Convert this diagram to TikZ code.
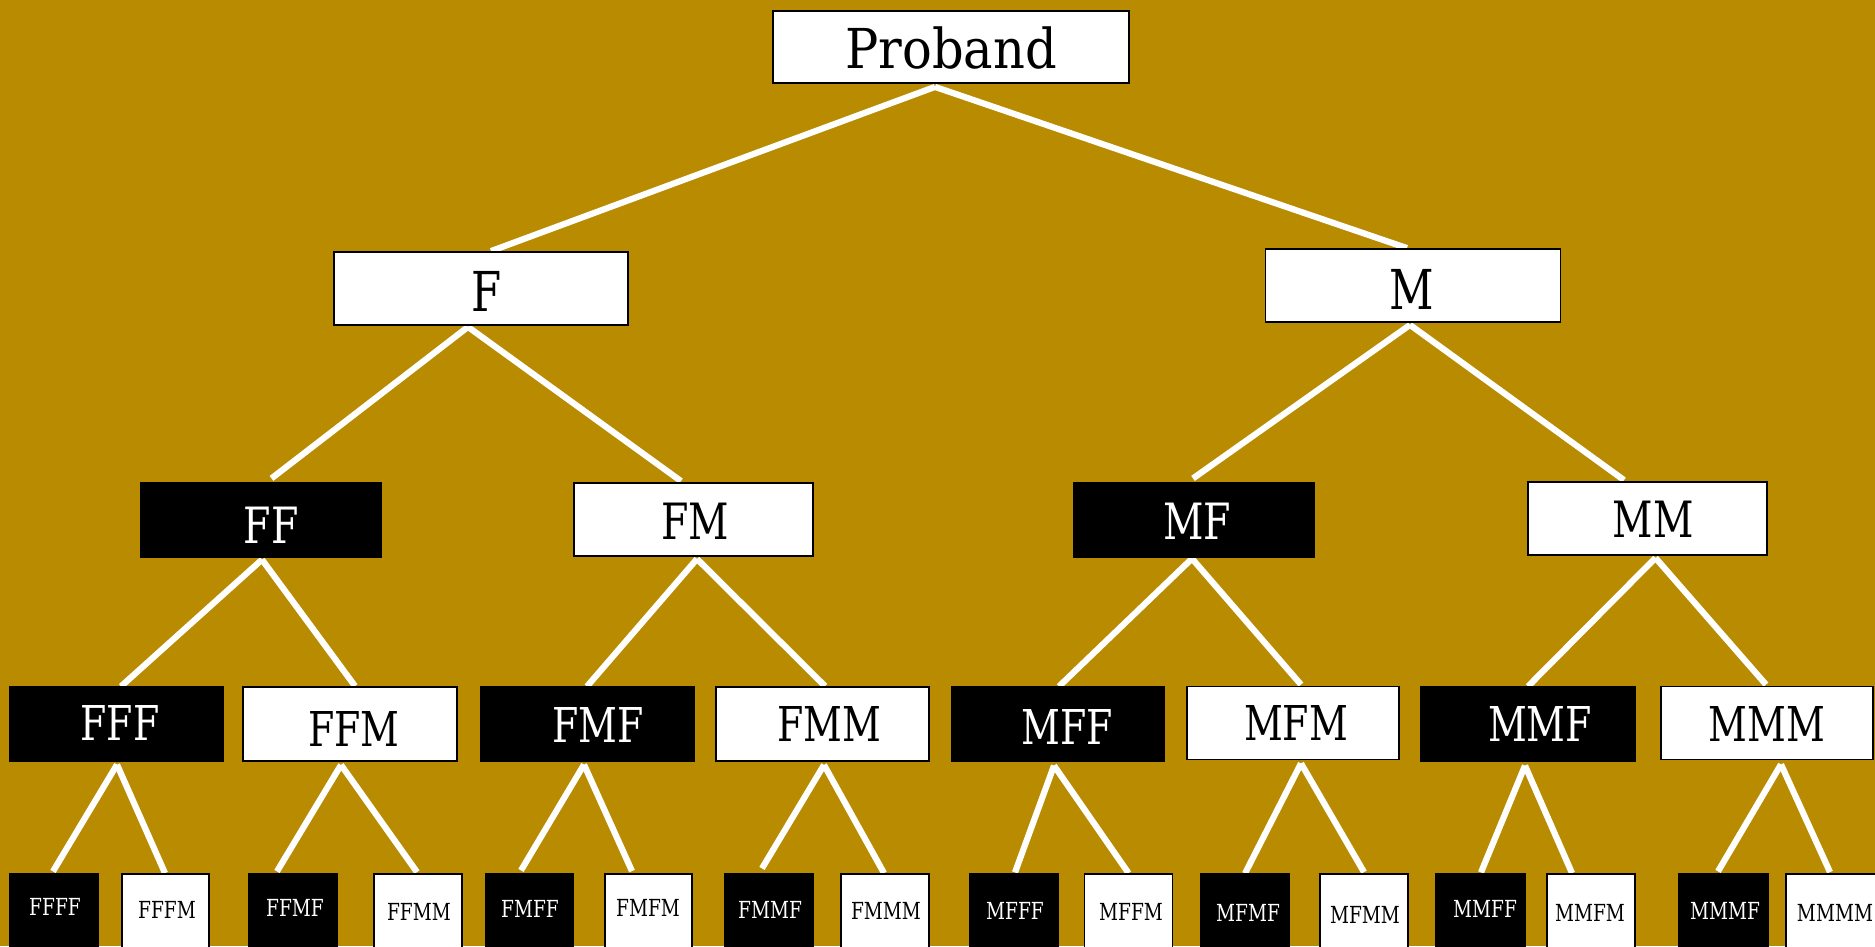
\documentclass[tikz,border=0pt]{standalone}
\usepackage{fontspec}
\setmainfont{DejaVu Serif}[FakeStretch=0.9]
\newfontfamily\narrowf{DejaVu Serif}[FakeStretch=0.79]
\usetikzlibrary{calc}
\definecolor{gold}{RGB}{184,139,0}
\pgfdeclarelayer{bg}
\pgfsetlayers{bg,main}
\newcommand\pfA{\fontsize{55}{60}\selectfont}
\newcommand\pfAn{\narrowf\fontsize{55}{60}\selectfont}
\newcommand\pfB{\narrowf\fontsize{50}{55}\selectfont}
\newcommand\pfC{\narrowf\fontsize{48}{52}\selectfont}
\newcommand\pfD{\narrowf\fontsize{23.5}{26}\selectfont}
\begin{document}
\begin{tikzpicture}[x=1pt,y=-1pt,
  wbox/.style={draw=black,line width=1.8pt,fill=white,inner sep=0pt},
  bbox/.style={draw=black,line width=1.2pt,fill=black,inner sep=0pt},
  lvA/.style={minimum width=#1pt,minimum height=73pt},
  lvC/.style={minimum width=#1pt,minimum height=74pt},
  lvD/.style={minimum width=#1pt,minimum height=86pt},
  tA/.style={inner sep=0pt,text height=40pt,text depth=0pt,font=\pfA,text=black},
  tAn/.style={inner sep=0pt,text height=40pt,text depth=0pt,font=\pfAn,text=black},
  tBw/.style={inner sep=0pt,text height=36.5pt,text depth=0pt,font=\pfB,text=white},
  tBk/.style={inner sep=0pt,text height=36.5pt,text depth=0pt,font=\pfB,text=black},
  tCw/.style={inner sep=0pt,text height=35pt,text depth=0pt,font=\pfC,text=white},
  tCk/.style={inner sep=0pt,text height=35pt,text depth=0pt,font=\pfC,text=black},
  tDw/.style={inner sep=0pt,text height=17pt,text depth=0pt,font=\pfD,text=white},
  tDk/.style={inner sep=0pt,text height=17pt,text depth=0pt,font=\pfD,text=black},
  link/.style={draw=white,line width=6.2pt}]
\useasboundingbox (0,0) rectangle (1875,946);
\clip (0,0) rectangle (1875,946);
\begin{pgfonlayer}{bg}
\fill[gold] (0,0) rectangle (1875,946);
\end{pgfonlayer}

% level 0
\node[wbox,minimum width=356pt,minimum height=72pt] (P) at (951,47) {};
\node[tA] (tP) at (951,48) {Proband};
% level 1
\node[wbox,lvA=294] (F) at (481,288.5) {};
\node[tAn] (tF) at (487,291) {F};
\node[wbox,lvA=295] (M) at (1413,285.5) {};
\node[tAn] (tM) at (1412,289) {M};
% level 2
\node[bbox,lvC=240] (FF) at (261,520) {};
\node[tBw] (tFF) at (271,525) {FF};
\node[wbox,lvA=239] (FM) at (693.5,519.5) {};
\node[tBk] (tFM) at (695,521) {FM};
\node[bbox,lvC=240] (MF) at (1194,520) {};
\node[tBw] (tMF) at (1197,521) {MF};
\node[wbox,lvA=239] (MM) at (1647.5,518.5) {};
\node[tBk] (tMM) at (1653,519) {MM};
% level 3
\node[bbox,lvC=213] (FFF) at (116.5,724) {};
\node[tCw] (tFFF) at (120,723) {FFF};
\node[wbox,lvC=214] (FFM) at (350,724) {};
\node[tCk] (tFFM) at (354,729) {FFM};
\node[bbox,lvC=213] (FMF) at (587.5,724) {};
\node[tCw] (tFMF) at (598,725) {FMF};
\node[wbox,lvC=213] (FMM) at (822.5,724) {};
\node[tCk] (tFMM) at (829,724) {FMM};
\node[bbox,lvC=213] (MFF) at (1058,724) {};
\node[tCw] (tMFF) at (1067,727) {MFF};
\node[wbox,lvA=212] (MFM) at (1293,723) {};
\node[tCk] (tMFM) at (1296,723) {MFM};
\node[bbox,lvC=214] (MMF) at (1528,724) {};
\node[tCw] (tMMF) at (1540,724) {MMF};
\node[wbox,lvA=212] (MMM) at (1767,723) {};
\node[tCk] (tMMM) at (1767,724) {MMM};
% level 4
\node[bbox,lvD=88] (FFFF) at (54,917) {};
\node[tDw] (tFFFF) at (55,907) {FFFF};
\node[wbox,lvD=87] (FFFM) at (165.5,917) {};
\node[tDk] (tFFFM) at (167,910) {FFFM};
\node[bbox,lvD=88] (FFMF) at (293,917) {};
\node[tDw] (tFFMF) at (295,908) {FFMF};
\node[wbox,lvD=88] (FFMM) at (418,917) {};
\node[tDk] (tFFMM) at (419,912) {FFMM};
\node[bbox,lvD=88] (FMFF) at (529.5,917) {};
\node[tDw] (tFMFF) at (530,909) {FMFF};
\node[wbox,lvD=87] (FMFM) at (648.5,917) {};
\node[tDk] (tFMFM) at (648,908) {FMFM};
\node[bbox,lvD=88] (FMMF) at (769,917) {};
\node[tDw] (tFMMF) at (770,910) {FMMF};
\node[wbox,lvD=88] (FMMM) at (885,917) {};
\node[tDk] (tFMMM) at (886,911) {FMMM};
\node[bbox,lvD=88] (MFFF) at (1014,917) {};
\node[tDw] (tMFFF) at (1015,911) {MFFF};
\node[wbox,lvD=88] (MFFM) at (1128.5,917) {};
\node[tDk] (tMFFM) at (1131,912) {MFFM};
\node[bbox,lvD=88] (MFMF) at (1245,917) {};
\node[tDw] (tMFMF) at (1248,913) {MFMF};
\node[wbox,lvD=88] (MFMM) at (1364,917) {};
\node[tDk] (tMFMM) at (1365,915) {MFMM};
\node[bbox,lvD=89] (MMFF) at (1480.5,917) {};
\node[tDw] (tMMFF) at (1485,909) {MMFF};
\node[wbox,lvD=88] (MMFM) at (1591,917) {};
\node[tDk] (tMMFM) at (1590,913) {MMFM};
\node[bbox,lvD=89] (MMMF) at (1723.5,917) {};
\node[tDw] (tMMMF) at (1725,911) {MMMF};
\node[wbox,lvD=90] (MMMM) at (1831,917) {};
\node[tDk] (tMMMM) at (1835,913) {MMMM};

\begin{pgfonlayer}{bg}
\draw[link] ($(P.south)+(-16,3)$) -- ($(F.north)+(10,0)$);
\draw[link] ($(P.south)+(-16,3)$) -- ($(M.north)+(-6,0)$);
\draw[link] ($(F.south)+(-13,1)$) -- ($(FF.north)+(10.5,-4)$);
\draw[link] ($(F.south)+(-13,1)$) -- ($(FM.north)+(-12.5,-1)$);
\draw[link] ($(M.south)+(-3,2)$) -- ($(MF.north)+(-1,-4)$);
\draw[link] ($(M.south)+(-3,2)$) -- ($(MM.north)+(-23.5,-1)$);
\draw[link] ($(FF.south)+(1,2)$) -- ($(FFF.north)+(4.5,0)$);
\draw[link] ($(FF.south)+(1,2)$) -- ($(FFM.north)+(5,0)$);
\draw[link] ($(FM.south)+(3.5,2)$) -- ($(FMF.north)+(-0.5,0)$);
\draw[link] ($(FM.south)+(3.5,2)$) -- ($(FMM.north)+(2.5,0)$);
\draw[link] ($(MF.south)+(-2,1)$) -- ($(MFF.north)+(1,0)$);
\draw[link] ($(MF.south)+(-2,1)$) -- ($(MFM.north)+(8,-1)$);
\draw[link] ($(MM.south)+(8,2)$) -- ($(MMF.north)+(0,0)$);
\draw[link] ($(MM.south)+(8,2)$) -- ($(MMM.north)+(-1,-1)$);
\draw[link] ($(FFF.south)+(0.5,3)$) -- ($(FFFF.north)+(-1,-2)$);
\draw[link] ($(FFF.south)+(0.5,3)$) -- ($(FFFM.north)+(-0.5,0)$);
\draw[link] ($(FFM.south)+(-9,3)$) -- ($(FFMF.north)+(-16,-2)$);
\draw[link] ($(FFM.south)+(-9,3)$) -- ($(FFMM.north)+(-1,-1)$);
\draw[link] ($(FMF.south)+(-3.5,3)$) -- ($(FMFF.north)+(-8.5,-3)$);
\draw[link] ($(FMF.south)+(-3.5,3)$) -- ($(FMFM.north)+(-16.5,-2)$);
\draw[link] ($(FMM.south)+(1.5,3)$) -- ($(FMMF.north)+(-7,-5)$);
\draw[link] ($(FMM.south)+(1.5,3)$) -- ($(FMMM.north)+(-1,0)$);
\draw[link] ($(MFF.south)+(-4,4)$) -- ($(MFFF.north)+(1,-1)$);
\draw[link] ($(MFF.south)+(-4,4)$) -- ($(MFFM.north)+(0,0)$);
\draw[link] ($(MFM.south)+(8,3)$) -- ($(MFMF.north)+(0,0)$);
\draw[link] ($(MFM.south)+(8,3)$) -- ($(MFMM.north)+(0,-1)$);
\draw[link] ($(MMF.south)+(-3,4)$) -- ($(MMFF.north)+(0.5,-1)$);
\draw[link] ($(MMF.south)+(-3,4)$) -- ($(MMFM.north)+(-19,0)$);
\draw[link] ($(MMM.south)+(14,4)$) -- ($(MMMF.north)+(-5.5,-2)$);
\draw[link] ($(MMM.south)+(14,4)$) -- ($(MMMM.north)+(-1,-1)$);
\end{pgfonlayer}
\end{tikzpicture}
\end{document}
